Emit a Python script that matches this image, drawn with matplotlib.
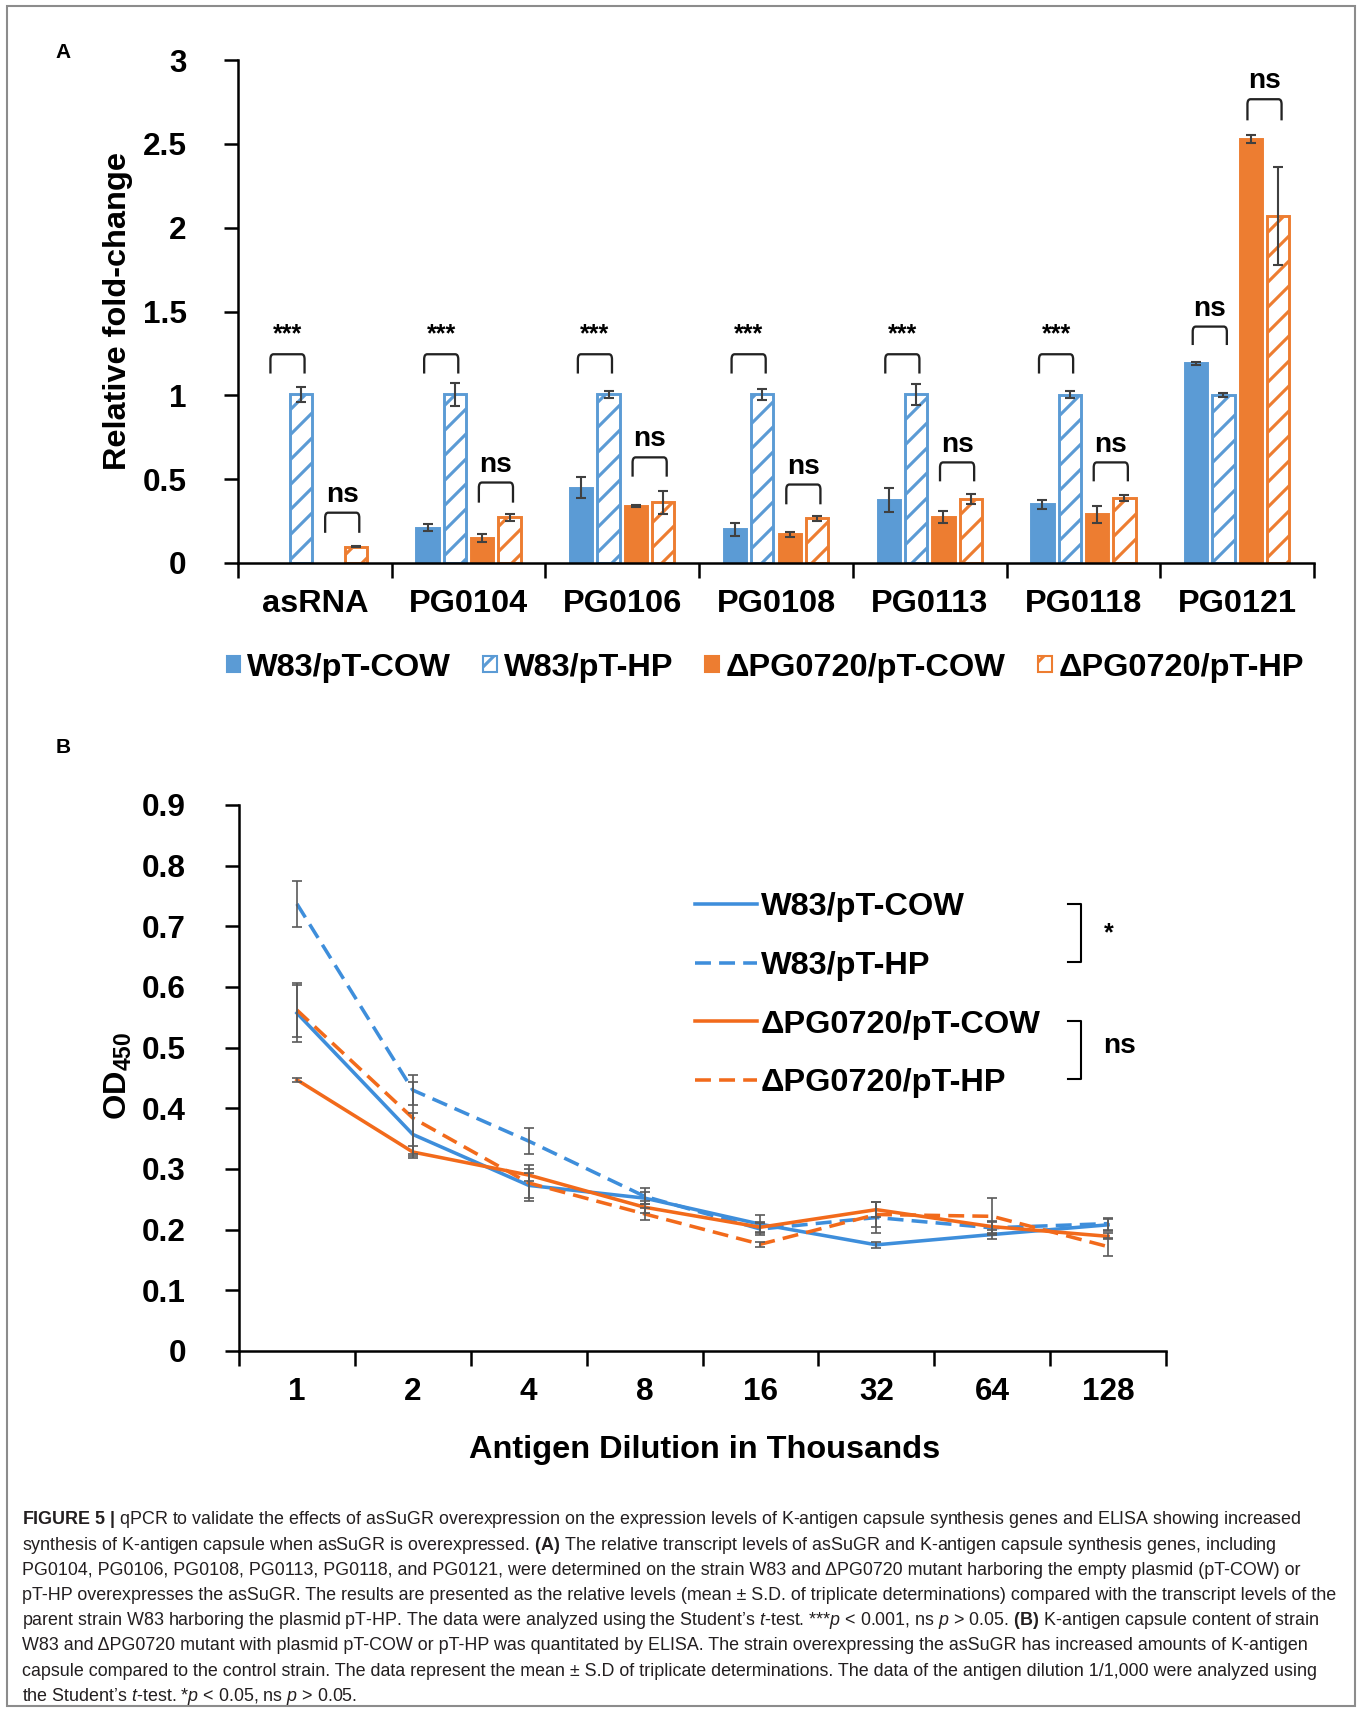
import numpy as np
import matplotlib
matplotlib.use("Agg")
import matplotlib.pyplot as plt
from matplotlib.patches import Patch, PathPatch, Rectangle
from matplotlib.path import Path

# figure geometry in pixels
W, H, DPI = 1362, 1713, 150
PX = 72 / DPI  # points per pixel

# ---- panel A data (relative fold-change, mean and S.D.)
genes = ["asRNA", "PG0104", "PG0106", "PG0108", "PG0113", "PG0118", "PG0121"]
w83_cow = [np.nan, 0.21, 0.45, 0.20, 0.375, 0.35, 1.19]
w83_cow_err = [np.nan, 0.022, 0.064, 0.04, 0.07, 0.027, 0.01]
w83_hp = [1.005, 1.005, 1.005, 1.005, 1.005, 1.003, 1.003]
w83_hp_err = [0.045, 0.07, 0.02, 0.03, 0.06, 0.02, 0.012]
d_cow = [np.nan, 0.15, 0.34, 0.17, 0.275, 0.29, 2.53]
d_cow_err = [np.nan, 0.022, 0.006, 0.012, 0.038, 0.05, 0.025]
d_hp = [0.097, 0.272, 0.362, 0.266, 0.38, 0.387, 2.07]
d_hp_err = [0.004, 0.02, 0.07, 0.015, 0.03, 0.016, 0.29]

bar_labels = ["W83/pT-COW", "W83/pT-HP", "ΔPG0720/pT-COW", "ΔPG0720/pT-HP"]

# significance brackets: group, left bar, text, leg bottom, top
sig_group = [0, 0, 1, 1, 2, 2, 3, 3, 4, 4, 5, 5, 6, 6]
sig_left = [0, 2, 0, 2, 0, 2, 0, 2, 0, 2, 0, 2, 0, 2]
sig_text = ["***", "ns"] * 6 + ["ns", "ns"]
sig_low = [1.13, 0.18, 1.13, 0.36, 1.13, 0.515, 1.13, 0.35, 1.13, 0.487, 1.13, 0.487, 1.30, 2.64]
sig_high = [1.245, 0.30, 1.245, 0.48, 1.245, 0.63, 1.245, 0.468, 1.245, 0.60, 1.245, 0.60, 1.41, 2.766]

# ---- panel B data (OD450 by antigen dilution)
dilutions = ["1", "2", "4", "8", "16", "32", "64", "128"]
od_w83_cow = [0.557, 0.357, 0.273, 0.252, 0.209, 0.175, 0.192, 0.208]
od_w83_cow_err = [0.047, 0.035, 0.02, 0.01, 0.015, 0.005, 0.008, 0.01]
od_w83_hp = [0.737, 0.43, 0.346, 0.255, 0.201, 0.22, 0.203, 0.21]
od_w83_hp_err = [0.038, 0.025, 0.022, 0.013, 0.01, 0.025, 0.01, 0.01]
od_d_cow = [0.447, 0.328, 0.29, 0.237, 0.204, 0.233, 0.205, 0.189]
od_d_cow_err = [0.003, 0.01, 0.01, 0.01, 0.008, 0.012, 0.01, 0.005]
od_d_hp = [0.562, 0.384, 0.277, 0.226, 0.176, 0.225, 0.222, 0.172]
od_d_hp_err = [0.045, 0.06, 0.03, 0.01, 0.004, 0.02, 0.03, 0.015]

caption = [
    r"$\mathbf{FIGURE\ 5\ |}$ qPCR to validate the effects of asSuGR overexpression on the expression levels of K-antigen capsule synthesis genes and ELISA showing increased",
    r"synthesis of K-antigen capsule when asSuGR is overexpressed. $\mathbf{(A)}$ The relative transcript levels of asSuGR and K-antigen capsule synthesis genes, including",
    "PG0104, PG0106, PG0108, PG0113, PG0118, and PG0121, were determined on the strain W83 and ΔPG0720 mutant harboring the empty plasmid (pT-COW) or",
    "pT-HP overexpresses the asSuGR. The results are presented as the relative levels (mean ± S.D. of triplicate determinations) compared with the transcript levels of the",
    r"parent strain W83 harboring the plasmid pT-HP. The data were analyzed using the Student’s $\mathit{t}$-test. ***$\mathit{p}$ < 0.001, ns $\mathit{p}$ > 0.05. $\mathbf{(B)}$ K-antigen capsule content of strain",
    "W83 and ΔPG0720 mutant with plasmid pT-COW or pT-HP was quantitated by ELISA. The strain overexpressing the asSuGR has increased amounts of K-antigen",
    "capsule compared to the control strain. The data represent the mean ± S.D of triplicate determinations. The data of the antigen dilution 1/1,000 were analyzed using",
    r"the Student’s $\mathit{t}$-test. *$\mathit{p}$ < 0.05, ns $\mathit{p}$ > 0.05.",
]

blue, orange = "#5B9BD5", "#ED7D31"
blue_l, orange_l = "#3E8EDB", "#F26A1B"

plt.rcParams["font.family"] = ["Liberation Sans", "DejaVu Sans"]
plt.rcParams["font.weight"] = "bold"
plt.rcParams["mathtext.fontset"] = "custom"
plt.rcParams["mathtext.rm"] = "Liberation Sans:weight=normal"
plt.rcParams["mathtext.it"] = "Liberation Sans:style=italic:weight=normal"
plt.rcParams["mathtext.bf"] = "Liberation Sans:weight=bold"
plt.rcParams["hatch.linewidth"] = 1.5

fs_main = 32.5 * PX
fs_tick = 31.5 * PX
fs_ns = 28 * PX
fs_star = 25 * PX
fs_cap = 17.9 * PX


def fx(p):
    return p / W


def fy(p):
    return 1 - p / H


def style_axis(ax):
    for s in ["top", "right"]:
        ax.spines[s].set_visible(False)
    for s in ["left", "bottom"]:
        ax.spines[s].set_linewidth(1.2)


def bracket(ax, x0, x1, low, high, rx=0.02, ry=0.03):
    verts = [(x0, low), (x0, high - ry), (x0, high), (x0 + rx, high),
             (x1 - rx, high), (x1, high), (x1, high - ry), (x1, low)]
    codes = [Path.MOVETO, Path.LINETO, Path.CURVE3, Path.CURVE3,
             Path.LINETO, Path.CURVE3, Path.CURVE3, Path.LINETO]
    ax.add_patch(PathPatch(Path(verts, codes), fill=False, lw=1.1, ec="#222222"))


fig = plt.figure(figsize=(W / DPI, H / DPI), dpi=DPI)

# ---------------- panel A
axA = fig.add_axes([fx(238), fy(563), fx(1314 - 238), (563 - 60) / H])
x = np.arange(len(genes))
pitch, bw = 0.178, 0.145
offsets = (np.arange(4) - 1.5) * pitch
series = [
    (w83_cow, w83_cow_err, blue, False),
    (w83_hp, w83_hp_err, blue, True),
    (d_cow, d_cow_err, orange, False),
    (d_hp, d_hp_err, orange, True),
]
handles = []
for (vals, errs, col, hatched), off, lab in zip(series, offsets, bar_labels):
    axA.bar(x + off, vals, bw, color="white" if hatched else col, edgecolor=col,
            hatch="//" if hatched else None, linewidth=1.4, zorder=2)
    axA.errorbar(x + off, vals, yerr=errs, fmt="none", ecolor="#404040",
                 elinewidth=1.0, capsize=2.6, capthick=1.0, zorder=3)
    handles.append(Patch(facecolor="white" if hatched else col, edgecolor=col,
                         hatch="//" if hatched else None, lw=1.0, label=lab))

for g, l, t, lo, hi in zip(sig_group, sig_left, sig_text, sig_low, sig_high):
    xc = g + (offsets[l] + offsets[l + 1]) / 2
    bracket(axA, xc - 0.111, xc + 0.111, lo, hi)
    if t == "***":
        axA.text(xc, 1.32, t, ha="center", va="baseline", fontsize=fs_star)
    else:
        axA.text(xc, hi + 0.065, t, ha="center", va="baseline", fontsize=fs_ns)

axA.set_xlim(-0.5, len(genes) - 0.5)
axA.set_ylim(0, 3)
axA.set_xticks(np.arange(-0.5, len(genes), 1))
axA.set_xticklabels([])
axA.set_xticks(x, minor=True)
axA.set_xticklabels(genes, minor=True)
axA.set_yticks(np.arange(0, 3.01, 0.5))
axA.set_yticklabels(["0", "0.5", "1", "1.5", "2", "2.5", "3"])
axA.tick_params(axis="x", which="major", length=7, width=1.2)
axA.tick_params(axis="x", which="minor", length=0, pad=12.4, labelsize=fs_main)
axA.tick_params(axis="y", length=6.5, width=1.2, pad=18.2, labelsize=fs_tick)
style_axis(axA)
axA.legend(handles=handles, loc="center", bbox_to_anchor=(0.49, -0.208), ncol=4,
           frameon=False, fontsize=fs_main, handlelength=0.42, handleheight=0.42,
           handletextpad=0.2, columnspacing=1.0, borderpad=0, borderaxespad=0)

fig.text(fx(118), fy(311), "Relative fold-change", rotation=90, ha="center",
         va="center", fontsize=fs_main)
fig.text(fx(63), fy(52), "A", ha="center", va="center", fontsize=10)

# ---------------- panel B
axB = fig.add_axes([fx(239), fy(1351), fx(1166 - 239), (1351 - 805) / H])
xs = np.arange(len(dilutions))
lines_b = [
    (od_w83_cow, od_w83_cow_err, blue_l, "-", "W83/pT-COW"),
    (od_w83_hp, od_w83_hp_err, blue_l, (0, (4.5, 2.3)), "W83/pT-HP"),
    (od_d_cow, od_d_cow_err, orange_l, "-", "ΔPG0720/pT-COW"),
    (od_d_hp, od_d_hp_err, orange_l, (0, (4.5, 2.3)), "ΔPG0720/pT-HP"),
]
legend_lines = []
for vals, errs, col, ls, lab in lines_b:
    ln, = axB.plot(xs, vals, color=col, ls=ls, lw=1.7, label=lab, zorder=2)
    axB.errorbar(xs, vals, yerr=errs, fmt="none", ecolor="#5a5a5a",
                 elinewidth=0.8, capsize=2.4, capthick=0.8, zorder=3)
    legend_lines.append(ln)

axB.set_xlim(-0.5, len(dilutions) - 0.5)
axB.set_ylim(0, 0.9)
axB.set_xticks(np.arange(-0.5, len(dilutions), 1))
axB.set_xticklabels([])
axB.set_xticks(xs, minor=True)
axB.set_xticklabels(dilutions, minor=True)
axB.set_yticks(np.arange(0, 0.91, 0.1))
axB.set_yticklabels(["0"] + [f"{v:.1f}" for v in np.arange(0.1, 0.91, 0.1)])
axB.tick_params(axis="x", which="major", length=7, width=1.2)
axB.tick_params(axis="x", which="minor", length=0, pad=12.4, labelsize=fs_tick)
axB.tick_params(axis="y", length=6.5, width=1.2, pad=19, labelsize=fs_tick)
style_axis(axB)
axB.legend(handles=legend_lines, loc="upper left", bbox_to_anchor=(0.492, 0.840),
           frameon=False, fontsize=fs_main, handlelength=1.9, handletextpad=0.12,
           labelspacing=0.88, borderpad=0, borderaxespad=0)

# group brackets next to the legend
for top, bot, txt, tx, ty in [(0.8187, 0.7125, "*", 0.9385, 0.765),
                              (0.6044, 0.4982, "ns", 0.950, 0.5586)]:
    axB.plot([0.894, 0.908, 0.908, 0.894], [top, top, bot, bot], color="black",
             lw=1.0, transform=axB.transAxes, clip_on=False)
    axB.text(tx, ty, txt, transform=axB.transAxes, ha="center", va="center",
             fontsize=fs_ns if txt == "ns" else fs_star)

fig.text(fx(705), fy(1450), "Antigen Dilution in Thousands", ha="center",
         va="center", fontsize=fs_main)
fig.text(fx(118), fy(1076), r"$\mathbf{OD_{450}}$", rotation=90, ha="center",
         va="center", fontsize=fs_main)
fig.text(fx(63), fy(748), "B", ha="center", va="center", fontsize=10)

# ---------------- caption and frame
for i, line in enumerate(caption):
    fig.text(fx(22), fy(1524.5 + i * 25.2), line, ha="left", va="baseline",
             fontsize=fs_cap, fontweight="normal", color="#231f20")

fig.add_artist(Rectangle((fx(7), fy(1706)), fx(1355 - 7), (1706 - 6) / H,
                         transform=fig.transFigure, fill=False, ec="#8c8c8c", lw=1.0))

fig.savefig("out.png", dpi=DPI)
